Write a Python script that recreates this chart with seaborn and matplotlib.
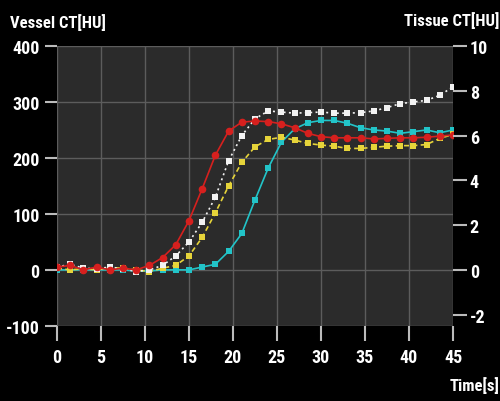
import numpy as np
import pandas as pd
import matplotlib
matplotlib.use("Agg")
import matplotlib.pyplot as plt
import seaborn as sns

# ---- data ----
time_s = [0, 1.5, 3, 4.5, 6, 7.5, 9, 10.5, 12, 13.5, 15, 16.5, 18, 19.5, 21, 22.5,
          24, 25.5, 27, 28.5, 30, 31.5, 33, 34.5, 36, 37.5, 39, 40.5, 42, 43.5, 45]
red_hu = [5, 8, 0, 5, 0, 3, 0, 8, 22, 45, 88, 145, 205, 248, 264, 266,
          265, 261, 254, 244, 238, 236, 236, 236, 234, 235, 236, 236, 237, 239, 241]
white_hu = [5, 10, 3, 2, 5, 2, -3, 0, 8, 25, 50, 85, 130, 195, 240, 270,
            284, 282, 280, 281, 282, 280, 280, 281, 284, 290, 297, 300, 303, 312, 327]
yellow_hu = [3, 0, 2, 0, 4, 3, 0, -3, 3, 8, 25, 58, 102, 150, 192, 220,
             233, 237, 232, 226, 223, 221, 217, 217, 219, 221, 222, 222, 224, 235, 242]
cyan_hu = [0, 0, 0, 0, 0, 0, -2, -2, 0, 0, 0, 5, 10, 33, 65, 125,
           182, 228, 252, 263, 267, 267, 262, 254, 250, 248, 244, 247, 250, 245, 250]

vessel_ticks = [-100, 0, 100, 200, 300, 400]
tissue_ticks = [-2, 0, 2, 4, 6, 8, 10]
time_ticks = [0, 5, 10, 15, 20, 25, 30, 35, 40, 45]

FONT = ["Roboto Condensed", "Liberation Sans Narrow", "Lato", "DejaVu Sans"]

sns.set_style("dark")
plt.rcParams["font.family"] = FONT
plt.rcParams["axes.unicode_minus"] = False

fig = plt.figure(figsize=(5.0, 4.02), dpi=100, facecolor="black")
ax = fig.add_axes([0.114, 0.187, 0.792, 0.696])
ax.set_facecolor("#2b2b2b")

series = [
    (cyan_hu, "#22c4c8", "s", "-", 4.5),
    (yellow_hu, "#e6d43a", "s", (0, (3, 2)), 4.5),
    (white_hu, "#f2f2f2", "s", (0, (1.2, 2)), 4.5),
    (red_hu, "#d6201e", "o", "-", 5.5),
]
for vals, col, mk, ls, ms in series:
    df = pd.DataFrame({"t": time_s, "v": vals})
    sns.lineplot(data=df, x="t", y="v", ax=ax, color=col, marker=mk,
                 markersize=ms, markeredgewidth=0, linewidth=1.2,
                 linestyle=ls, zorder=3)

ax.set_xlim(0, 45)
ax.set_ylim(-100, 400)
ax.set_xticks(time_ticks)
ax.set_yticks(vessel_ticks)
ax.set_xlabel("")
ax.set_ylabel("")
ax.grid(True, color="#5c5c5c", linewidth=1.0, zorder=0)
for s in ax.spines.values():
    s.set_visible(False)
ax.tick_params(axis="y", left=True, length=8.5, width=1.5, color="#bbbbbb",
               labelcolor="white", labelsize=13, pad=4)
ax.tick_params(axis="x", bottom=True, length=11, width=1.5, color="#bbbbbb",
               labelcolor="white", labelsize=13, pad=5)
for lab in ax.get_xticklabels() + ax.get_yticklabels():
    lab.set_fontweight("bold")

ax2 = ax.twinx()
ax2.set_ylim(-2.5, 10)
ax2.set_yticks(tissue_ticks)
ax2.grid(False)
for s in ax2.spines.values():
    s.set_visible(False)
ax2.tick_params(axis="y", right=True, length=10, width=1.5, color="#bbbbbb",
                labelcolor="white", labelsize=13, pad=2)
for lab in ax2.get_yticklabels():
    lab.set_fontweight("bold")

fig.text(0.02, 0.943, "Vessel CT[HU]", color="white", fontsize=12,
         fontweight="bold", ha="left", va="center")
fig.text(0.998, 0.95, "Tissue CT[HU]", color="white", fontsize=12,
         fontweight="bold", ha="right", va="center")
fig.text(0.998, 0.042, "Time[s]", color="white", fontsize=12,
         fontweight="bold", ha="right", va="center")

fig.savefig("out.png", dpi=100, facecolor="black")
